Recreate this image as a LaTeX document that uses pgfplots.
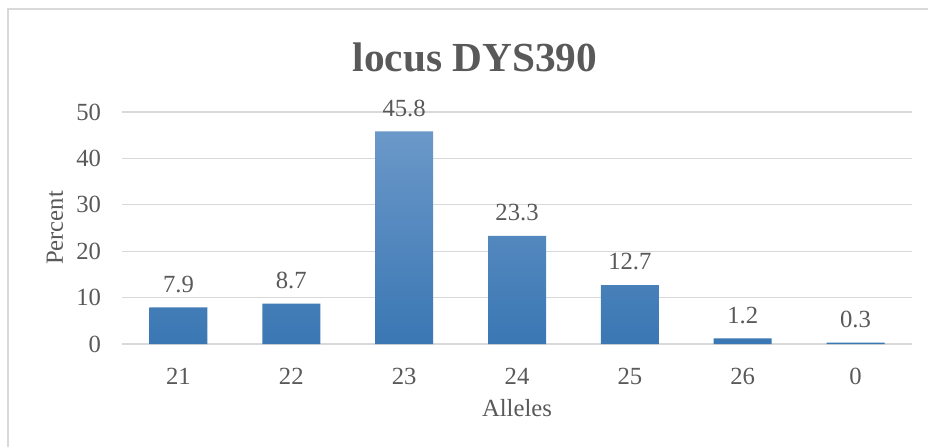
\documentclass[border=0pt]{standalone}
\usepackage{pgfplots}
\pgfplotsset{compat=1.18}
\usepackage{fontspec}
\setmainfont{Liberation Serif}
\definecolor{txt}{HTML}{595959}
\definecolor{grd}{HTML}{D9D9D9}
\definecolor{bartop}{HTML}{6B98C9}
\definecolor{barbot}{HTML}{3A77B3}
\begin{document}
\begin{tikzpicture}[x=0.75pt,y=0.75pt]
\useasboundingbox (0,0) rectangle (928,447);
\draw[grd,line width=1.5pt] (7.5,0) -- (7.5,437.5) -- (928,437.5);
\node[txt,font=\fontsize{31}{36}\selectfont\bfseries,anchor=base] at (475,375) {locus DYS390};
\begin{axis}[
  at={(91.5pt,77.25pt)}, anchor=south west,
  scale only axis, width=592.5pt, height=174pt,
  xmin=-0.5, xmax=6.5, ymin=0, ymax=50,
  xtick={0,...,6}, xticklabels={21,22,23,24,25,26,0},
  ytick={0,10,...,50},
  ymajorgrids, major grid style={grd,line width=1pt},
  axis line style={draw=none},
  tick style={draw=none},
  font=\fontsize{18.5}{22}\selectfont,
  ticklabel style={text=txt,font=\fontsize{18.5}{22}\selectfont},
  /pgf/number format/assume math mode=true,
  xticklabel style={inner sep=0pt,yshift=-18pt},
  yticklabel style={inner sep=0pt,xshift=-15.5pt},
  xlabel={Alleles}, ylabel={Percent},
  every axis x label/.style={at={(axis description cs:0.5,-0.276)},anchor=center,text=txt},
  every axis y label/.style={at={(axis description cs:-0.0848,0.5)},anchor=center,rotate=90,text=txt},
  clip=false,
]
\addplot[ybar, bar width=43.5pt, draw=none, top color=bartop, bottom color=barbot,
  nodes near coords, point meta=explicit symbolic,
  every node near coord/.style={text=txt,font=\fontsize{18.5}{22}\selectfont,inner sep=0pt,anchor=south,yshift=11pt}]
  coordinates {(0,7.9)[7.9] (1,8.7)[8.7] (2,45.8)[45.8] (3,23.3)[23.3] (4,12.7)[12.7] (5,1.2)[1.2] (6,0.3)[0.3]};
\end{axis}
\end{tikzpicture}
\end{document}
